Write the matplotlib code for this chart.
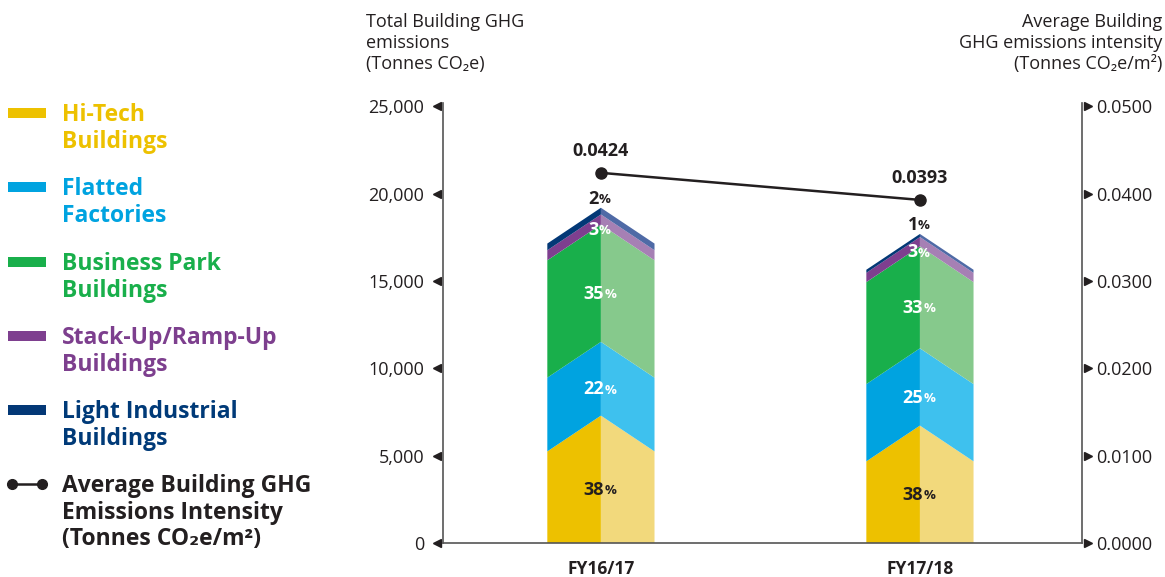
import matplotlib
matplotlib.use("Agg")
import matplotlib.pyplot as plt
from matplotlib.patches import Polygon, Rectangle
from matplotlib.lines import Line2D
from matplotlib.transforms import blended_transform_factory

# ---------------- data ----------------
years = ["FY16/17", "FY17/18"]
totals = [19200, 17700]
categories = ["Hi-Tech\nBuildings", "Flatted\nFactories", "Business Park\nBuildings",
              "Stack-Up/Ramp-Up\nBuildings", "Light Industrial\nBuildings"]
shares_fy1617 = [38, 22, 35, 3, 2]
shares_fy1718 = [38, 25, 33, 3, 1]
intensity = [0.0424, 0.0393]
intensity_labels = ["0.0424", "0.0393"]
left_ticks = [0, 5000, 10000, 15000, 20000, 25000]
right_ticks = [0.0, 0.01, 0.02, 0.03, 0.04, 0.05]

# ---------------- style ----------------
dark_cols = ["#EDC100", "#00A3E0", "#19AF4B", "#7E3F8F", "#033876"]
light_cols = ["#F2D97C", "#3EC1EE", "#86C98C", "#A680B4", "#4F6AA6"]
label_cols = ["#231F20", "white", "white", "white", "#231F20"]
legend_text_cols = ["#EDC100", "#00A3E0", "#19AF4B", "#7D3F8E", "#003A78"]
ink = "#231F20"
FONT = "Open Sans"
plt.rcParams["font.family"] = [FONT, "DejaVu Sans"]

W, H = 1165, 577
fig = plt.figure(figsize=(W / 100, H / 100), dpi=100)
ax = fig.add_axes([443 / W, 1 - 543 / H, (1082 - 443) / W, (543 - 103) / H])
ax2 = ax.twinx()

ymax = 25200
ax.set_ylim(0, ymax)
ax2.set_ylim(0, 0.05 * ymax / 25000)
ax.set_xlim(-0.495, 1.508)

half = 0.168
drop = 2050  # chevron depth (style)

all_shares = [shares_fy1617, shares_fy1718]
for i, (tot, shares) in enumerate(zip(totals, all_shares)):
    cum = 0.0
    for k, s in enumerate(shares):
        lo = cum
        hi = cum + tot * s / 100.0
        lo_edge = 0 if k == 0 else lo - drop
        hi_edge = hi - drop
        left = Polygon([(i - half, lo_edge), (i, lo), (i, hi), (i - half, hi_edge)],
                       closed=True, facecolor=dark_cols[k], edgecolor="none", zorder=2)
        right = Polygon([(i, lo), (i + half, lo_edge), (i + half, hi_edge), (i, hi)],
                        closed=True, facecolor=light_cols[k], edgecolor="none", zorder=2)
        ax.add_patch(left)
        ax.add_patch(right)
        if k == len(shares) - 1:
            ly = hi + 500
        else:
            ly = (lo + hi) / 2 - 0.3 * drop
        t = ax.text(i - 0.022, ly, f"{s}", ha="center", va="center", fontsize=13,
                    fontweight="bold", color=label_cols[k], zorder=5)
        ax.annotate("%", xy=(1, 0.1), xycoords=t, ha="left", va="bottom",
                    fontsize=9.5, fontweight="bold", color=label_cols[k], zorder=5)
        cum = hi

# intensity line
ax2.plot(range(len(intensity)), intensity, color=ink, lw=1.8, marker="o",
         markersize=8, zorder=6)
for i, (v, lab) in enumerate(zip(intensity, intensity_labels)):
    ax2.annotate(lab, xy=(i, v), xytext=(0, 16), textcoords="offset points",
                 ha="center", va="center", fontsize=13, fontweight="bold", color=ink)

# axes styling
for a in (ax, ax2):
    a.spines["top"].set_visible(False)
    for sp in ["left", "right", "bottom"]:
        a.spines[sp].set_color("#555555")
        a.spines[sp].set_linewidth(1.2)
ax.spines["right"].set_visible(False)
ax2.spines["left"].set_visible(False)
ax2.spines["bottom"].set_visible(False)

ax.set_yticks(left_ticks)
ax.set_yticklabels([f"{v:,}" for v in left_ticks])
ax.tick_params(axis="y", length=0, pad=13.5, labelsize=13, labelcolor=ink)
ax2.set_yticks(right_ticks)
ax2.set_yticklabels([f"{v:.4f}" for v in right_ticks])
ax2.tick_params(axis="y", length=0, pad=10, labelsize=13, labelcolor=ink)
ax.set_xticks(range(len(years)))
ax.set_xticklabels(years, fontweight="bold", fontsize=12.5, color=ink)
ax.tick_params(axis="x", length=0, pad=12)

# triangle tick markers
trl = blended_transform_factory(ax.transAxes, ax.transData)
ax.plot([-0.0094] * len(left_ticks), left_ticks, ls="none", marker="<", markersize=6,
        color=ink, transform=trl, clip_on=False)
trr = blended_transform_factory(ax2.transAxes, ax2.transData)
ax2.plot([1.0094] * len(right_ticks), right_ticks, ls="none", marker=">", markersize=6,
         color=ink, transform=trr, clip_on=False)

# axis titles
fig.text(366 / W, 1 - 13 / H, "Total Building GHG\nemissions\n(Tonnes CO\u2082e)",
         ha="left", va="top", fontsize=13, color=ink, linespacing=1.22)
fig.text(1162 / W, 1 - 13 / H, "Average Building\nGHG emissions intensity\n(Tonnes CO\u2082e/m\u00b2)",
         ha="right", va="top", fontsize=13, color=ink, linespacing=1.22, multialignment="right")

# legend
ys = [113, 187, 262, 336, 410]
for k, y in enumerate(ys):
    fig.patches.append(Rectangle((8 / W, 1 - (y + 5) / H), 38 / W, 10 / H,
                                 transform=fig.transFigure, facecolor=dark_cols[k],
                                 edgecolor="none"))
    fig.text(62 / W, 1 - (y - 10) / H, categories[k], ha="left", va="top", fontsize=16.5,
             fontweight="bold", color=legend_text_cols[k], linespacing=1.15)
ly = 484
fig.lines.append(Line2D([12 / W, 42 / W], [1 - ly / H, 1 - ly / H], transform=fig.transFigure,
                        color=ink, lw=1.8, marker="o", markersize=7))
fig.text(62 / W, 1 - (ly - 10) / H,
         "Average Building GHG\nEmissions Intensity\n(Tonnes CO\u2082e/m\u00b2)",
         ha="left", va="top", fontsize=16.5, fontweight="bold", color=ink, linespacing=1.15)

fig.savefig("out.png", dpi=100)
